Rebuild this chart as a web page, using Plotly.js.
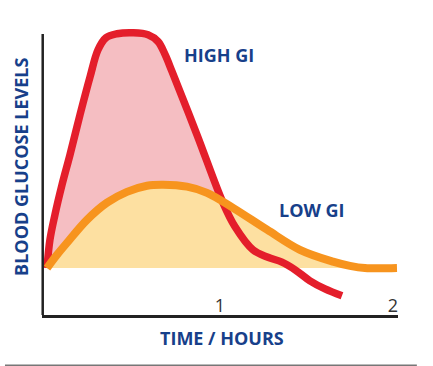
<!DOCTYPE html>
<html>
<head>
<meta charset="utf-8">
<script src="https://cdn.plot.ly/plotly-3.0.1.min.js"></script>
<style>html,body{margin:0;padding:0;background:#fff;}#chart{width:433px;height:366px;}</style>
</head>
<body>
<div id="chart"></div>
<script>
// Time in hours, glucose rise above fasting baseline (arbitrary units)
var highGiTime = [0, 0.017, 0.046, 0.087, 0.133, 0.191, 0.249, 0.295, 0.341, 0.405, 0.497, 0.584, 0.642, 0.682, 0.723, 0.867, 1.017, 1.087, 1.191, 1.277, 1.358, 1.434, 1.520, 1.607, 1.705];
var highGiLevel = [0, 11.5, 21.7, 33.9, 46.1, 62.4, 77.8, 88.8, 93.7, 95.3, 95.7, 94.9, 92.1, 86.9, 79.9, 54.2, 26.6, 16.8, 7.4, 4.4, 2.4, -0.7, -5.2, -8.5, -11.3];
var lowGiTime = [0, 0.058, 0.116, 0.231, 0.347, 0.462, 0.578, 0.671, 0.809, 0.925, 1.075, 1.272, 1.462, 1.653, 1.751, 1.838, 2.023];
var lowGiLevel = [0, 5.4, 10.3, 19.6, 26.6, 31.0, 33.5, 33.9, 33.1, 30.6, 24.5, 15.6, 7.4, 2.6, 0.9, 0, 0];
var tickValues = [1, 2];
var tickLabels = ['1', '2'];
var seriesLabels = ['HIGH GI', 'LOW GI'];
var xTitle = 'TIME / HOURS';
var yTitle = 'BLOOD GLUCOSE LEVELS';

var red = '#E41E2B', pink = '#F5BEC2', orange = '#F7941E', yellow = '#FDE0A1', blue = '#17408A';

// pink area: only the part of the high GI curve above the baseline
var pinkX = [], pinkY = [];
for (var i = 0; i < highGiTime.length; i++) {
  if (highGiLevel[i] >= 0) { pinkX.push(highGiTime[i]); pinkY.push(highGiLevel[i]); }
}

var traces = [
  {x: pinkX, y: pinkY, type: 'scatter', mode: 'lines', fill: 'tozeroy', fillcolor: pink,
   line: {width: 0, shape: 'spline', color: pink}, hoverinfo: 'skip', showlegend: false},
  {x: lowGiTime, y: lowGiLevel, type: 'scatter', mode: 'lines', fill: 'tozeroy', fillcolor: yellow,
   line: {width: 0, shape: 'spline', color: yellow}, hoverinfo: 'skip', showlegend: false},
  {x: highGiTime, y: highGiLevel, type: 'scatter', mode: 'lines', name: seriesLabels[0],
   line: {width: 7.5, shape: 'spline', smoothing: 1, color: red}, showlegend: false},
  {x: lowGiTime, y: lowGiLevel, type: 'scatter', mode: 'lines', name: seriesLabels[1],
   line: {width: 8, shape: 'spline', color: orange}, showlegend: false}
];

var bold = {family: '"Open Sans", sans-serif', size: 18, color: blue, weight: 700};

var layout = {
  width: 433, height: 366,
  margin: {l: 42, r: 35, t: 20, b: 51},
  paper_bgcolor: '#fff', plot_bgcolor: '#fff',
  showlegend: false,
  xaxis: {range: [-0.0289, 2.0289], showgrid: false, zeroline: false, showline: true,
          linecolor: '#222', linewidth: 3, ticks: '', tickvals: tickValues, ticktext: tickLabels,
          ticklabelposition: 'inside', ticklabeloverflow: 'allow',
          tickfont: {family: '"Open Sans", sans-serif', size: 18, color: '#333'},
          fixedrange: true},
  yaxis: {range: [-19.1, 100.9], showgrid: false, zeroline: false, showline: false,
          showticklabels: false, ticks: '', fixedrange: true},
  shapes: [
    {type: 'line', xref: 'paper', yref: 'paper', x0: 0.002, x1: 0.002, y0: 0, y1: 0.9525,
     line: {color: '#222', width: 2.5}},
    {type: 'line', xref: 'paper', yref: 'paper', x0: -0.104, x1: 1.053, y0: -0.17, y1: -0.17,
     line: {color: '#777', width: 1.5}}
  ],
  annotations: [
    {text: seriesLabels[0], xref: 'paper', yref: 'paper', x: 0.497, y: 0.881, showarrow: false,
     xanchor: 'center', yanchor: 'middle', font: bold},
    {text: seriesLabels[1], xref: 'paper', yref: 'paper', x: 0.758, y: 0.356, showarrow: false,
     xanchor: 'center', yanchor: 'middle', font: bold},
    {text: xTitle, xref: 'paper', yref: 'paper', x: 0.507, y: -0.078, showarrow: false,
     xanchor: 'center', yanchor: 'middle', font: bold},
    {text: yTitle, xref: 'paper', yref: 'paper', x: -0.059, y: 0.502, showarrow: false, textangle: -90,
     xanchor: 'center', yanchor: 'middle', font: bold}
  ]
};

Plotly.newPlot('chart', traces, layout, {displayModeBar: false, staticPlot: true});
</script>
</body>
</html>
